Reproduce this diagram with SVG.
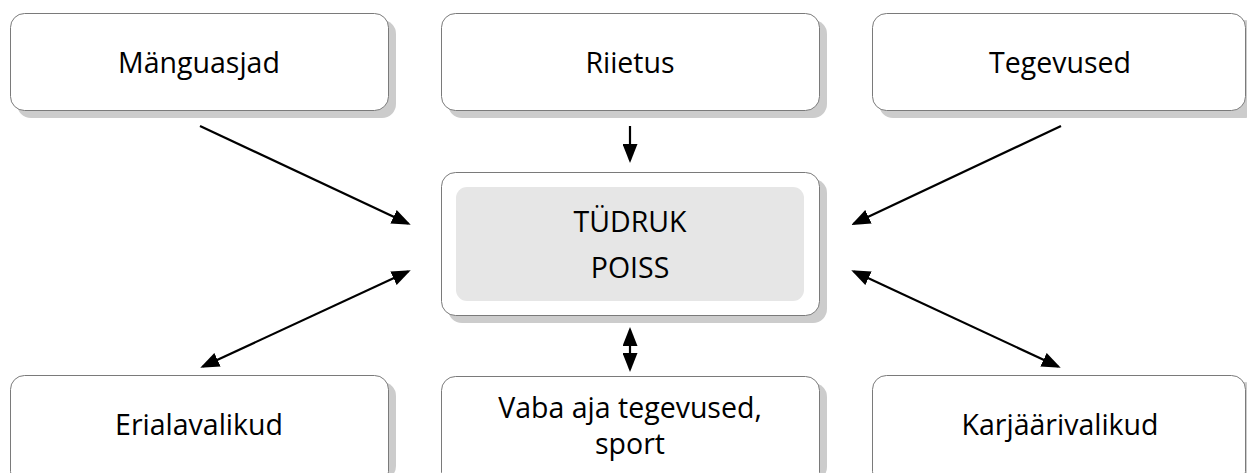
<svg xmlns="http://www.w3.org/2000/svg" width="1247" height="473" viewBox="0 0 1247 473">
<defs>
<style>
.box{fill:#ffffff;stroke:#7a7a7a;stroke-width:1}
.shadow{fill:#cccccc}
.inner{fill:#e6e6e6}
.lbl{font-family:"Open Sans","Noto Sans","Liberation Sans",sans-serif;font-size:28.5px;fill:#000;text-anchor:middle}
.conn{stroke:#000;stroke-width:2.2;fill:none}
</style>
<marker id="ah" markerUnits="userSpaceOnUse" markerWidth="19" markerHeight="15" viewBox="0 0 19 15" refX="16" refY="7.5" orient="auto-start-reverse">
<path d="M0,0 L19,7.5 L0,15 z" fill="#000"/>
</marker>
</defs>
<rect width="1247" height="473" fill="#fff"/>
<g id="n-manguasjad">
<rect class="shadow" x="17" y="20" width="379" height="98" rx="14"/>
<rect class="box" x="10.5" y="13.5" width="378" height="97" rx="14"/>
<text class="lbl" x="199" y="73">Mänguasjad</text>
</g>
<g id="n-riietus">
<rect class="shadow" x="448" y="20" width="379" height="98" rx="14"/>
<rect class="box" x="441.5" y="13.5" width="378" height="97" rx="14"/>
<text class="lbl" x="630" y="73">Riietus</text>
</g>
<g id="n-tegevused">
<rect class="shadow" x="879" y="20" width="379" height="98" rx="14"/>
<rect class="box" x="872.5" y="13.5" width="373" height="97" rx="14"/>
<text class="lbl" x="1060" y="73">Tegevused</text>
</g>
<g id="n-center">
<rect class="shadow" x="448" y="179" width="379" height="144" rx="14"/>
<rect class="box" x="441.5" y="172.5" width="378" height="143" rx="14"/>
<rect class="inner" x="456" y="187" width="348" height="114" rx="11"/>
<text class="lbl" x="630" y="232">TÜDRUK</text>
<text class="lbl" x="630" y="278">POISS</text>
</g>
<g id="n-erialavalikud">
<rect class="shadow" x="17" y="382" width="379" height="98" rx="14"/>
<rect class="box" x="10.5" y="375.5" width="378" height="110" rx="14"/>
<text class="lbl" x="199" y="435">Erialavalikud</text>
</g>
<g id="n-vaba">
<rect class="shadow" x="448" y="383" width="379" height="98" rx="14"/>
<rect class="box" x="441.5" y="376.5" width="378" height="110" rx="14"/>
<text class="lbl" x="630" y="418">Vaba aja tegevused,</text>
<text class="lbl" x="630" y="454">sport</text>
</g>
<g id="n-karjaarivalikud">
<rect class="shadow" x="879" y="382" width="379" height="98" rx="14"/>
<rect class="box" x="872.5" y="375.5" width="373" height="110" rx="14"/>
<text class="lbl" x="1060" y="435">Karjäärivalikud</text>
</g>
<g id="connectors">
<line class="conn" x1="200" y1="126" x2="408" y2="223.6" marker-end="url(#ah)"/>
<line class="conn" x1="630" y1="126" x2="630" y2="160" marker-end="url(#ah)"/>
<line class="conn" x1="1061" y1="126" x2="854" y2="223.6" marker-end="url(#ah)"/>
<line class="conn" x1="203" y1="366.5" x2="408" y2="271.5" marker-start="url(#ah)" marker-end="url(#ah)"/>
<line class="conn" x1="630" y1="330" x2="630" y2="369" marker-start="url(#ah)" marker-end="url(#ah)"/>
<line class="conn" x1="854" y1="271.5" x2="1058" y2="366.5" marker-start="url(#ah)" marker-end="url(#ah)"/>
</g>
</svg>
